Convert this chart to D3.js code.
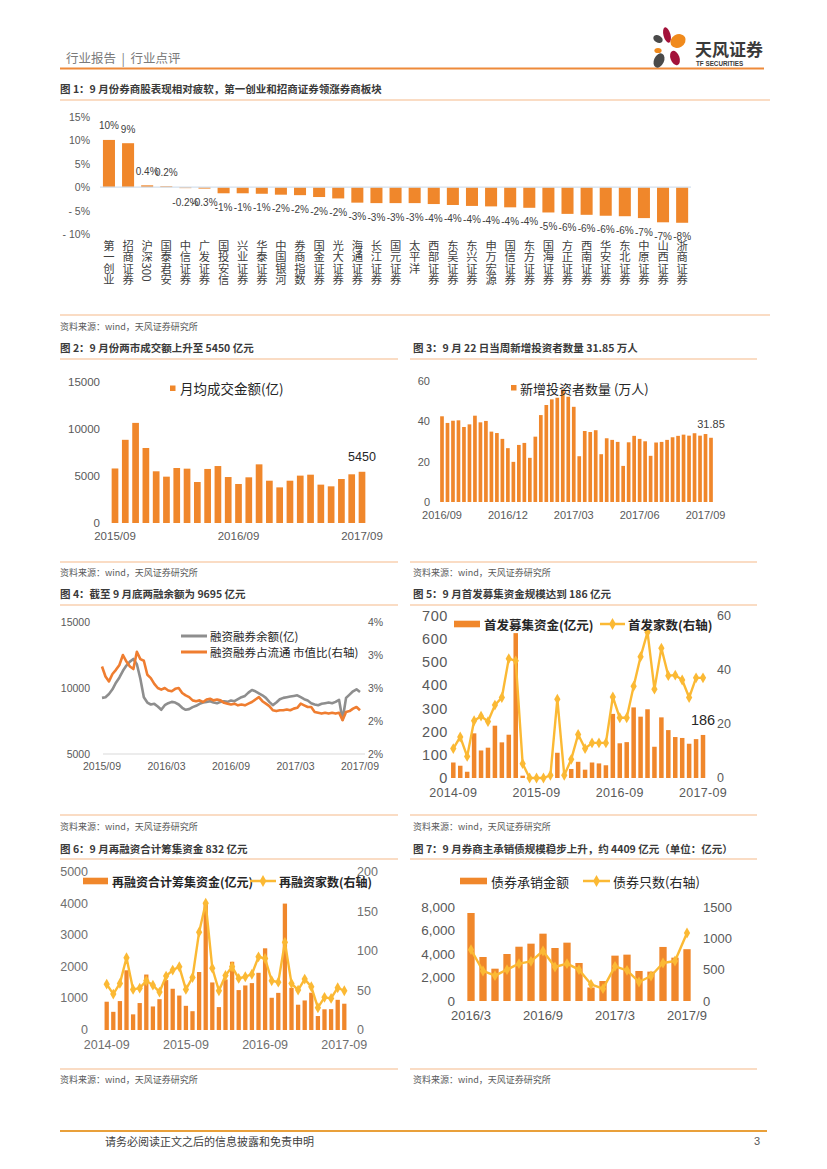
<!DOCTYPE html>
<html><head><meta charset="utf-8">
<script src="https://cdn.jsdelivr.net/npm/d3@7"></script>
<style>body{margin:0;background:#fff} svg{display:block}</style>
</head><body><svg id="page" width="827" height="1169"></svg>
<script>
// ---------------- DATA ----------------
const fig1Categories = ["第一创业","招商证券","沪深300","国泰君安","中信证券","广发证券","国投安信","兴业证券","华泰证券","中国银河","券商指数","国金证券","光大证券","海通证券","长江证券","国元证券","太平洋","西部证券","东吴证券","东兴证券","申万宏源","国信证券","东方证券","国海证券","方正证券","西南证券","华安证券","东北证券","中原证券","山西证券","浙商证券"];
const fig1Values = [10.1, 9.4, 0.4, 0.2, -0.2, -0.3, -1.3, -1.3, -1.4, -1.6, -1.7, -2.1, -2.4, -3.3, -3.4, -3.4, -3.4, -3.6, -3.8, -4.0, -4.1, -4.3, -4.4, -5.4, -5.7, -5.9, -6.1, -6.2, -6.6, -7.5, -7.6];
const fig1Ticks = [15, 10, 5, 0, -5, -10];

const fig2Values = [5800, 8850, 10650, 7980, 5500, 4930, 5850, 5780, 4360, 5750, 6060, 4890, 4150, 4860, 6240, 4500, 3790, 4500, 5040, 5140, 4080, 3900, 4680, 5180, 5450];
const fig2TickLabels = ["2015/09", "2016/09", "2017/09"];
const fig2TickIdx = [0, 12, 24];
const fig2YTicks = [0, 5000, 10000, 15000];

const fig3Values = [42.5, 39.2, 40.3, 40.5, 37.2, 38.5, 42.8, 39.5, 40.2, 34.9, 34.2, 31.3, 26.7, 19.9, 28.3, 29.3, 21.9, 32.4, 43.1, 48.1, 50.9, 51.7, 55.8, 52.2, 47.2, 22.7, 35.2, 34.7, 35.6, 23.7, 31.6, 30.8, 29.8, 17.9, 29.6, 32.8, 31.3, 30.1, 22.9, 29.5, 29.8, 30.8, 32.1, 32.8, 33.4, 32.9, 34.1, 32.9, 33.7, 31.85];
const fig3TickLabels = ["2016/09", "2016/12", "2017/03", "2017/06", "2017/09"];
const fig3TickIdx = [0, 12, 24, 36, 48];
const fig3YTicks = [0, 20, 40, 60];

const fig4Balance = [9250, 9300, 9550, 9900, 10400, 10800, 11300, 11700, 12000, 12200, 11800, 10700, 9300, 8900, 8750, 8800, 8600, 8350, 8700, 8850, 8950, 8900, 8750, 8500, 8350, 8400, 8550, 8650, 8800, 8900, 8950, 9000, 8900, 8850, 8950, 9000, 8950, 9050, 9000, 9150, 9300, 9400, 9650, 9850, 9750, 9600, 9450, 9250, 8950, 8700, 8900, 9150, 9250, 9300, 9350, 9400, 9450, 9300, 9150, 9050, 8850, 8750, 8700, 8800, 8850, 8900, 8850, 8950, 9100, 7600, 9250, 9500, 9750, 9900, 9700];
const fig4Ratio = [3.06, 2.94, 2.88, 2.97, 3.02, 3.08, 3.20, 3.12, 3.06, 3.03, 3.24, 3.15, 3.13, 2.96, 2.92, 2.85, 2.80, 2.78, 2.80, 2.77, 2.76, 2.79, 2.80, 2.74, 2.71, 2.69, 2.65, 2.64, 2.65, 2.63, 2.66, 2.67, 2.65, 2.66, 2.65, 2.62, 2.61, 2.60, 2.61, 2.59, 2.60, 2.59, 2.61, 2.63, 2.66, 2.69, 2.64, 2.61, 2.58, 2.53, 2.52, 2.53, 2.53, 2.54, 2.53, 2.55, 2.56, 2.61, 2.59, 2.57, 2.57, 2.51, 2.50, 2.49, 2.50, 2.49, 2.50, 2.49, 2.50, 2.41, 2.51, 2.52, 2.55, 2.57, 2.53];
const fig4TickLabels = ["2015/09", "2016/03", "2016/09", "2017/03", "2017/09"];
const fig4TickPos = [0, 18.5, 37, 55.5, 74];
const fig4LeftTicks = [5000, 10000, 15000];
const fig4RightTicks = [2.0, 2.4, 2.8, 3.2, 3.6];

const fig5Amount = [67, 53, 27, 193, 119, 131, 226, 154, 187, 626, 10, 0, 0, 0, 0, 109, 0, 39, 70, 36, 67, 63, 55, 277, 150, 155, 305, 265, 297, 135, 262, 207, 177, 173, 148, 168, 186];
const fig5Count = [10.9, 15.2, 8, 21.2, 22.9, 20.9, 27, 29.8, 44.2, 43.4, 5.3, 0, 0, 0, 1, 29.2, 1, 6.9, 16.1, 10.9, 13, 13, 13, 30, 22.3, 22.3, 34, 44.9, 54, 32.9, 48.1, 37.9, 38.1, 36.3, 29.8, 37.1, 37.1];
const fig5TickLabels = ["2014-09", "2015-09", "2016-09", "2017-09"];
const fig5TickIdx = [0, 12, 24, 36];
const fig5LeftTicks = [0, 100, 200, 300, 400, 500, 600, 700];
const fig5RightTicks = [0, 20, 40, 60];

const fig6Amount = [895, 575, 915, 1890, 495, 853, 1755, 745, 975, 1580, 1305, 1090, 765, 595, 1835, 4000, 1505, 725, 1600, 2160, 1263, 1410, 1484, 1810, 2585, 1020, 1175, 4000, 1335, 800, 935, 1180, 442, 655, 660, 955, 832];
const fig6Count = [58, 45.5, 59, 91.4, 51.4, 53, 62.3, 56.8, 48, 68.2, 75.8, 80, 51.4, 66.5, 123.8, 160.4, 78.3, 49.7, 69, 80, 65.3, 67.4, 70.6, 92.6, 90.5, 62.3, 60.6, 111, 59, 50.5, 64.4, 54.7, 28.2, 41.3, 40, 53.5, 49.7];
const fig6TickLabels = ["2014-09", "2015-09", "2016-09", "2017-09"];
const fig6TickIdx = [0, 12, 24, 36];
const fig6LeftTicks = [0, 1000, 2000, 3000, 4000, 5000];
const fig6RightTicks = [0, 50, 100, 150, 200];

const fig7Amount = [7490, 3745, 2750, 4000, 4620, 4880, 5730, 4510, 4965, 3235, 1150, 1700, 3860, 3945, 2555, 2500, 4600, 3690, 4409];
const fig7Count = [819, 479, 404, 500, 596, 633, 798, 543, 596, 500, 266, 197, 553, 489, 303, 399, 606, 638, 1085];
const fig7TickLabels = ["2016/3", "2016/9", "2017/3", "2017/9"];
const fig7TickIdx = [0, 6, 12, 18];
const fig7LeftTicks = [0, 2000, 4000, 6000, 8000];
const fig7RightTicks = [0, 500, 1000, 1500];

// ---------------- STYLE ----------------
const svg = d3.select('#page');
const CN = "'Noto Sans CJK SC','Noto Sans',sans-serif";
const NUM = "'Liberation Sans',Arial,sans-serif";
const ORANGE = '#f0872b';
const GOLD = '#fbb934';
const AXIS = '#595959';
const RULE = '#f5b98a';

function text(g, x, y, s, o = {}) {
  return g.append('text').attr('x', x).attr('y', y).text(s)
    .attr('font-family', o.ff || CN).attr('font-size', o.fs || 11)
    .attr('fill', o.fill || '#404040').attr('font-weight', o.fw || 'normal')
    .attr('text-anchor', o.anchor || 'start').attr('dominant-baseline', o.db || 'central')
    .attr('letter-spacing', o.ls || 0);
}
function hline(x1, x2, y, color, w) {
  svg.append('line').attr('x1', x1).attr('x2', x2).attr('y1', y).attr('y2', y)
    .attr('stroke', color).attr('stroke-width', w);
}
function title(x, y, s) { text(svg, x, y, s, { fs: 10.5, fw: 'bold', fill: '#3a3a3a' }); }
function source(x, y) { text(svg, x, y, '资料来源：wind，天风证券研究所', { fs: 9, fill: '#595959' }); }

// ---------------- HEADER / FOOTER ----------------
text(svg, 66, 57, '行业报告\u00a0\u00a0|\u00a0\u00a0行业点评', { fs: 12.5, fill: '#7a7a7a' });
hline(60, 764, 68.5, '#ee8a3a', 2);
const logo = svg.append('g');
[[667, 35, 3.5, 8, -15, '#a3123a'], [658, 39, 5, 3.6, 30, '#4a4a4a'], [678, 41, 8, 6.5, -30, '#f08a1c'],
 [658, 50.5, 3.6, 2.6, 0, '#f08a1c'], [675, 58, 4.5, 7.5, -20, '#a3123a'], [659, 60.5, 5, 7.5, 25, '#4a4a4a']]
  .forEach(p => logo.append('ellipse').attr('cx', p[0]).attr('cy', p[1]).attr('rx', p[2]).attr('ry', p[3])
    .attr('transform', `rotate(${p[4]},${p[0]},${p[1]})`).attr('fill', p[5]));
text(svg, 695, 48, '天风证券', { fs: 17, fw: 'bold', fill: '#3a3a3a' });
text(svg, 696, 63, 'TF SECURITIES', { fs: 6.3, ff: NUM, fill: '#3a3a3a', fw: 'bold' });

hline(60, 767, 1131, '#e9a03a', 2);
text(svg, 105, 1141, '请务必阅读正文之后的信息披露和免责申明', { fs: 11, fill: '#404040' });
text(svg, 760, 1141, '3', { fs: 11, ff: NUM, fill: '#595959', anchor: 'end' });

// ---------------- FIG 1 ----------------
title(60, 88, '图 1：9 月份券商股表现相对疲软，第一创业和招商证券领涨券商板块');
hline(60, 770, 100, RULE, 1.2);
hline(60, 770, 315, RULE, 1.2);
source(60, 326);
{
  const g = svg.append('g');
  const x = d3.scaleBand().domain(fig1Categories).range([99.5, 691.6]).paddingInner(0.37).paddingOuter(0.18);
  const y = d3.scaleLinear().domain([-10, 15]).range([234, 117]);
  fig1Ticks.forEach(t => text(g, 90, y(t), (t < 0 ? '- ' + (-t) : t) + '%', { ff: NUM, fs: 10.5, fill: AXIS, anchor: 'end' }));
  g.selectAll('rect').data(fig1Values).join('rect')
    .attr('x', (d, i) => x(fig1Categories[i])).attr('width', x.bandwidth())
    .attr('y', d => Math.min(y(d), y(0))).attr('height', d => Math.max(0.8, Math.abs(y(d) - y(0))))
    .attr('fill', ORANGE);
  g.append('line').attr('x1', 100).attr('x2', 691).attr('y1', y(0)).attr('y2', y(0)).attr('stroke', '#d3e0ee').attr('stroke-width', 1.2);
  const fmt = v => (Math.abs(v) < 1 ? v.toFixed(1) : Math.round(v)) + '%';
  fig1Values.forEach((v, i) => {
    const cx = x(fig1Categories[i]) + x.bandwidth() / 2;
    text(g, cx, v >= 0 ? y(v) - 14 : y(v) + 14, fmt(v), { ff: NUM, fs: 10, fill: '#404040', anchor: 'middle' });
    g.append('text').attr('x', cx).attr('y', 240).text(fig1Categories[i])
      .attr('font-family', CN).attr('font-size', 11.3).attr('fill', '#404040')
      .style('writing-mode', 'vertical-rl').style('text-orientation', 'mixed');
  });
}

// ---------------- generic bar chart ----------------
function barChart(o) {
  const g = svg.append('g');
  const n = o.values.length;
  const idx = d3.range(n);
  const step = (o.last - o.first) / (n - 1);
  const x = d3.scaleBand().domain(idx).range([o.first - step / 2, o.last + step / 2]).paddingInner(o.pad).paddingOuter(o.pad / 2);
  const y = d3.scaleLinear().domain(o.yDomain).range([o.y0, o.yTop]);
  o.yTicks.forEach(t => text(g, o.yLabelX, y(t), o.yFmt ? o.yFmt(t) : t, { ff: NUM, fs: o.fs, fill: o.axisFill || AXIS, anchor: 'end', ls: o.ls || 0 }));
  g.selectAll('rect.bar').data(o.values).join('rect').attr('class', 'bar')
    .attr('x', (d, i) => x(i)).attr('width', x.bandwidth())
    .attr('y', d => y(d)).attr('height', d => y(o.yDomain[0]) - y(d)).attr('fill', ORANGE);
  o.tickIdx.forEach((ti, k) => text(g, x(ti) + x.bandwidth() / 2, o.xLabelY, o.tickLabels[k], { ff: NUM, fs: o.xfs || o.fs, fill: o.axisFill || AXIS, anchor: 'middle', ls: o.xls || 0 }));
  return { g, x, y };
}
function lineOverlay(c, vals, yR) {
  const line = d3.line().x((d, i) => c.x(i) + c.x.bandwidth() / 2).y(d => yR(d));
  c.g.append('path').datum(vals).attr('d', line).attr('fill', 'none').attr('stroke', GOLD).attr('stroke-width', 2.4).attr('stroke-linejoin', 'round');
  c.g.selectAll('path.mk').data(vals).join('path').attr('class', 'mk')
    .attr('d', d3.symbol(d3.symbolDiamond, 34)())
    .attr('transform', (d, i) => `translate(${c.x(i) + c.x.bandwidth() / 2},${yR(d)})`).attr('fill', GOLD);
}
function legendBar(x, y, label, o) {
  svg.append('rect').attr('x', x).attr('y', y - 3.3).attr('width', o.w).attr('height', 6.6).attr('fill', ORANGE);
  text(svg, x + o.w + 4, y, label, { fs: o.fs, fw: o.fw || 'normal', fill: '#262626' });
}
function legendLine(x, y, label, o) {
  svg.append('line').attr('x1', x).attr('x2', x + o.w).attr('y1', y).attr('y2', y).attr('stroke', GOLD).attr('stroke-width', 2.5);
  svg.append('path').attr('d', d3.symbol(d3.symbolDiamond, 40)()).attr('transform', `translate(${x + o.w / 2},${y})`).attr('fill', GOLD);
  text(svg, x + o.w + 3, y, label, { fs: o.fs, fw: o.fw || 'normal', fill: '#262626' });
}

// ---------------- FIG 2 ----------------
title(60, 347, '图 2：9 月份两市成交额上升至 5450 亿元');
hline(60, 398, 359, RULE, 1.2); hline(60, 398, 562, RULE, 1.2); source(60, 572);
{
  const c = barChart({ values: fig2Values, first: 115, last: 362, pad: 0.35, yDomain: [0, 15000], y0: 523, yTop: 382,
    yTicks: fig2YTicks, yLabelX: 100, fs: 11.5, tickIdx: fig2TickIdx, tickLabels: fig2TickLabels, xLabelY: 536 });
  svg.append('rect').attr('x', 170).attr('y', 385.5).attr('width', 5.5).attr('height', 5.5).attr('fill', ORANGE);
  text(svg, 180, 388, '月均成交金额(亿)', { fs: 13.5, fill: '#262626' });
  const li = fig2Values.length - 1;
  text(svg, c.x(li) + c.x.bandwidth() / 2, c.y(fig2Values[li]) - 15, String(fig2Values[li]), { ff: NUM, fs: 12.5, fill: '#262626', anchor: 'middle' });
}

// ---------------- FIG 3 ----------------
title(413, 347, '图 3：9 月 22 日当周新增投资者数量 31.85 万人');
hline(410, 757, 359, RULE, 1.2); hline(410, 757, 562, RULE, 1.2); source(413, 572);
{
  const c = barChart({ values: fig3Values, first: 442, last: 711, pad: 0.33, yDomain: [0, 60], y0: 502, yTop: 381,
    yTicks: fig3YTicks, yLabelX: 430, fs: 11, tickIdx: fig3TickIdx, tickLabels: fig3TickLabels, xLabelY: 515 });
  svg.append('rect').attr('x', 511).attr('y', 385).attr('width', 5.5).attr('height', 5.5).attr('fill', ORANGE);
  text(svg, 520, 388, '新增投资者数量 (万人)', { fs: 13, fill: '#262626' });
  const li = fig3Values.length - 1;
  text(svg, c.x(li) + c.x.bandwidth() / 2, c.y(fig3Values[li]) - 14, String(fig3Values[li]), { ff: NUM, fs: 11, fill: '#404040', anchor: 'middle' });
}

// ---------------- FIG 4 ----------------
title(60, 593, '图 4：截至 9 月底两融余额为 9695 亿元');
hline(60, 398, 605, RULE, 1.2); hline(60, 398, 815, RULE, 1.2); source(60, 826);
{
  const g = svg.append('g');
  const x = d3.scaleLinear().domain([0, fig4Balance.length - 1]).range([102, 360]);
  const yL = d3.scaleLinear().domain([5000, 15000]).range([754, 622]);
  const yR = d3.scaleLinear().domain([2.0, 3.6]).range([754, 622]);
  g.append('line').attr('x1', 103).attr('x2', 365).attr('y1', 754).attr('y2', 754).attr('stroke', '#d9d9d9').attr('stroke-width', 1.2);
  fig4LeftTicks.forEach(t => text(g, 90, yL(t), t, { ff: NUM, fs: 10.5, fill: AXIS, anchor: 'end' }));
  fig4RightTicks.forEach(t => text(g, 368, yR(t), Math.round(t) + '%', { ff: NUM, fs: 10.5, fill: AXIS }));
  fig4TickPos.forEach((p, k) => text(g, x(p), 766, fig4TickLabels[k], { ff: NUM, fs: 10.5, fill: AXIS, anchor: 'middle' }));
  g.append('path').datum(fig4Balance).attr('d', d3.line().x((d, i) => x(i)).y(d => yL(d)))
    .attr('fill', 'none').attr('stroke', '#8e8e8e').attr('stroke-width', 2.6).attr('stroke-linejoin', 'round');
  g.append('path').datum(fig4Ratio).attr('d', d3.line().x((d, i) => x(i)).y(d => yR(d)))
    .attr('fill', 'none').attr('stroke', '#ef7d30').attr('stroke-width', 2.6).attr('stroke-linejoin', 'round');
  svg.append('line').attr('x1', 181).attr('x2', 207).attr('y1', 636).attr('y2', 636).attr('stroke', '#8e8e8e').attr('stroke-width', 3);
  text(svg, 210, 636, '融资融券余额(亿)', { fs: 11.5, fill: '#262626' });
  svg.append('line').attr('x1', 181).attr('x2', 207).attr('y1', 652).attr('y2', 652).attr('stroke', '#ef7d30').attr('stroke-width', 3);
  text(svg, 210, 652, '融资融券占流通 市值比(右轴)', { fs: 11.5, fill: '#262626' });
}

// ---------------- FIG 5 ----------------
title(413, 593, '图 5：9 月首发募集资金规模达到 186 亿元');
hline(410, 757, 605, RULE, 1.2); hline(410, 757, 815, RULE, 1.2); source(413, 826);
{
  const c = barChart({ values: fig5Amount, first: 453.3, last: 703, pad: 0.35, yDomain: [0, 700], y0: 778, yTop: 616,
    yTicks: fig5LeftTicks, yLabelX: 448, fs: 14.5, ls: 0.6, xfs: 12.5, xls: 0.3, tickIdx: fig5TickIdx, tickLabels: fig5TickLabels, xLabelY: 793 });
  const yR = d3.scaleLinear().domain([0, 60]).range([778, 616]);
  fig5RightTicks.forEach(t => text(c.g, 717, yR(t), t, { ff: NUM, fs: 12.5, fill: AXIS }));
  lineOverlay(c, fig5Count, yR);
  legendBar(454, 624, '首发募集资金(亿元)', { w: 26, fs: 12.5, fw: 'bold' });
  legendLine(600, 624, '首发家数(右轴)', { w: 25, fs: 12.5, fw: 'bold' });
  const li = fig5Amount.length - 1;
  text(svg, c.x(li) + c.x.bandwidth() / 2, c.y(fig5Amount[li]) - 15, String(fig5Amount[li]), { ff: NUM, fs: 14.5, fill: '#262626', anchor: 'middle' });
}

// ---------------- FIG 6 ----------------
title(60, 848, '图 6：9 月再融资合计筹集资金 832 亿元');
hline(60, 398, 859, RULE, 1.2); hline(60, 398, 1069, RULE, 1.2); source(60, 1079);
{
  const c = barChart({ values: fig6Amount, first: 106.7, last: 344.3, pad: 0.35, yDomain: [0, 5000], y0: 1030, yTop: 872,
    yTicks: fig6LeftTicks, yLabelX: 88, fs: 12.5, axisFill: '#6f6f6f', xfs: 12.5, tickIdx: fig6TickIdx, tickLabels: fig6TickLabels, xLabelY: 1045 });
  const yR = d3.scaleLinear().domain([0, 200]).range([1030, 872]);
  fig6RightTicks.forEach(t => text(c.g, 357, yR(t), t, { ff: NUM, fs: 12.5, fill: '#6f6f6f' }));
  lineOverlay(c, fig6Count, yR);
  legendBar(83, 881, '再融资合计筹集资金(亿元)', { w: 25, fs: 12, fw: 'bold' });
  legendLine(250, 881, '再融资家数(右轴)', { w: 26, fs: 12, fw: 'bold' });
}

// ---------------- FIG 7 ----------------
title(413, 848, '图 7：9 月券商主承销债规模稳步上升，约 4409 亿元（单位：亿元）');
hline(410, 757, 859, RULE, 1.2); hline(410, 757, 1069, RULE, 1.2); source(413, 1079);
{
  const c = barChart({ values: fig7Amount, first: 471, last: 687, pad: 0.39, yDomain: [0, 8000], y0: 1001, yTop: 907,
    yTicks: fig7LeftTicks, yLabelX: 455, fs: 13.5, yFmt: d3.format(','), xfs: 13, tickIdx: fig7TickIdx, tickLabels: fig7TickLabels, xLabelY: 1015 });
  const yR = d3.scaleLinear().domain([0, 1500]).range([1001, 907]);
  fig7RightTicks.forEach(t => text(c.g, 703, yR(t), t, { ff: NUM, fs: 13, fill: AXIS }));
  lineOverlay(c, fig7Count, yR);
  legendBar(460, 881, '债券承销金额', { w: 27, fs: 13 });
  legendLine(583, 881, '债券只数(右轴)', { w: 27, fs: 13 });
}
</script></body></html>
